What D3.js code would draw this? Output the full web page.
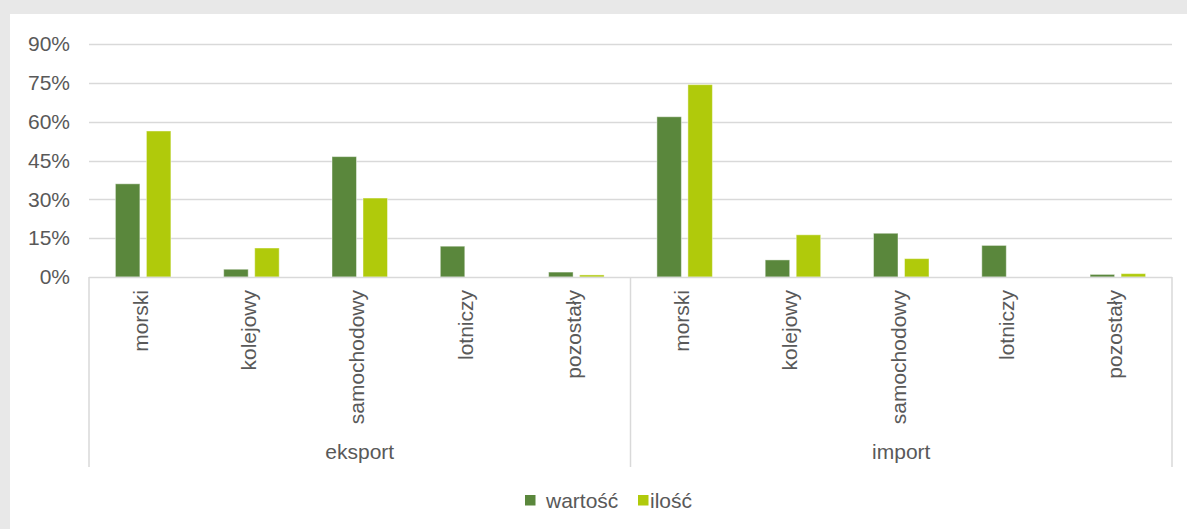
<!DOCTYPE html>
<html>
<head>
<meta charset="utf-8">
<script src="https://cdn.jsdelivr.net/npm/d3@7"></script>
<style>
  html, body { margin: 0; padding: 0; background: #e8e8e8; }
  svg { display: block; }
  text { font-family: "Liberation Sans", Arial, sans-serif; fill: #595959; }
</style>
</head>
<body>
<svg id="chart"></svg>
<script>
const WIDTH = 1187;
const HEIGHT = 529;

// data
const groups = ["eksport", "import"];
const modes = ["morski", "kolejowy", "samochodowy", "lotniczy", "pozostały"];
const seriesNames = ["wartość", "ilość"];
const wartosc = [36.0, 3.0, 46.5, 11.9, 1.9, 61.9, 6.6, 16.9, 12.2, 1.0];
const ilosc = [56.4, 11.2, 30.5, 0, 0.8, 74.3, 16.3, 7.1, 0, 1.3];
const yTicks = [0, 15, 30, 45, 60, 75, 90];
const colors = ["#5a873c", "#b0ca0b"];

const categories = [];
groups.forEach(g => modes.forEach(m => categories.push(g + "|" + m)));

const svg = d3.select("#chart").attr("width", WIDTH).attr("height", HEIGHT);

// white panel
svg.append("rect")
  .attr("x", 10).attr("y", 14)
  .attr("width", WIDTH - 10).attr("height", HEIGHT - 14)
  .attr("fill", "#ffffff");

const plot = { left: 89, right: 1172, top: 44, bottom: 277 };

const x = d3.scaleBand()
  .domain(categories)
  .range([plot.left, plot.right])
  .padding(0);

const y = d3.scaleLinear()
  .domain([0, 90])
  .range([plot.bottom, plot.top]);

const inner = d3.scaleBand()
  .domain(seriesNames)
  .range([-27.75, 27.75])
  .paddingInner(0.21)
  .paddingOuter(0);

// gridlines
svg.append("g")
  .selectAll("line")
  .data(yTicks.filter(t => t > 0))
  .enter()
  .append("line")
  .attr("x1", plot.left)
  .attr("x2", plot.right)
  .attr("y1", d => Math.round(y(d)) + 0.5)
  .attr("y2", d => Math.round(y(d)) + 0.5)
  .attr("stroke", "#d9d9d9")
  .attr("stroke-width", 1.3);

// y axis labels
const yAxis = svg.append("g")
  .attr("transform", "translate(" + plot.left + ",0)")
  .call(d3.axisLeft(y).tickValues(yTicks).tickSize(0).tickPadding(19).tickFormat(d => d + "%"));
yAxis.select(".domain").remove();
yAxis.selectAll("text")
  .attr("font-size", 21)
  .attr("font-family", "Liberation Sans, Arial, sans-serif")
  .attr("fill", "#595959");

// bars
const rows = categories.map((c, i) => ({ cat: c, values: [wartosc[i], ilosc[i]] }));
const catG = svg.append("g")
  .selectAll("g")
  .data(rows)
  .enter()
  .append("g")
  .attr("transform", d => "translate(" + (x(d.cat) + x.bandwidth() / 2) + ",0)");

catG.selectAll("rect")
  .data(d => d.values.map((v, j) => ({ name: seriesNames[j], value: v, j: j })))
  .enter()
  .append("rect")
  .filter(d => d.value > 0)
  .attr("x", d => inner(d.name))
  .attr("width", inner.bandwidth())
  .attr("y", d => y(d.value))
  .attr("height", d => y(0) - y(d.value))
  .attr("fill", d => colors[d.j])
  .attr("stroke", "rgba(255,255,255,0.45)")
  .attr("stroke-width", 1);

// x axis line
svg.append("line")
  .attr("x1", plot.left).attr("x2", plot.right)
  .attr("y1", plot.bottom + 0.5).attr("y2", plot.bottom + 0.5)
  .attr("stroke", "#d9d9d9").attr("stroke-width", 1.5);

// group separators
const sepX = [plot.left, x(groups[1] + "|" + modes[0]), plot.right];
svg.append("g")
  .selectAll("line")
  .data(sepX)
  .enter()
  .append("line")
  .attr("x1", d => d).attr("x2", d => d)
  .attr("y1", plot.bottom).attr("y2", 467)
  .attr("stroke", "#d9d9d9").attr("stroke-width", 1.5);

// category labels
const xAxis = svg.append("g")
  .attr("transform", "translate(0," + plot.bottom + ")")
  .call(d3.axisBottom(x).tickSize(0).tickFormat(d => d.split("|")[1]));
xAxis.select(".domain").remove();
xAxis.selectAll("text")
  .attr("font-size", 21)
  .attr("font-family", "Liberation Sans, Arial, sans-serif")
  .attr("fill", "#595959")
  .attr("text-anchor", "end")
  .attr("dy", null)
  .attr("y", 0)
  .attr("dominant-baseline", "central")
  .attr("transform", "translate(-3,13) rotate(-90)");

// group labels
svg.append("g")
  .selectAll("text")
  .data(groups)
  .enter()
  .append("text")
  .attr("x", g => x(g + "|" + modes[0]) + x.bandwidth() * modes.length / 2)
  .attr("y", 459)
  .attr("text-anchor", "middle")
  .attr("font-size", 21)
  .text(g => g);

// legend
const legendItems = [
  { name: seriesNames[0], color: colors[0], sx: 525, tx: 546 },
  { name: seriesNames[1], color: colors[1], sx: 638, tx: 650 }
];
const legend = svg.append("g");
legend.selectAll("rect")
  .data(legendItems)
  .enter()
  .append("rect")
  .attr("x", d => d.sx).attr("y", 495)
  .attr("width", 10.5).attr("height", 10.5)
  .attr("fill", d => d.color);
legend.selectAll("text")
  .data(legendItems)
  .enter()
  .append("text")
  .attr("x", d => d.tx).attr("y", 508)
  .attr("font-size", 21)
  .text(d => d.name);
</script>
</body>
</html>
